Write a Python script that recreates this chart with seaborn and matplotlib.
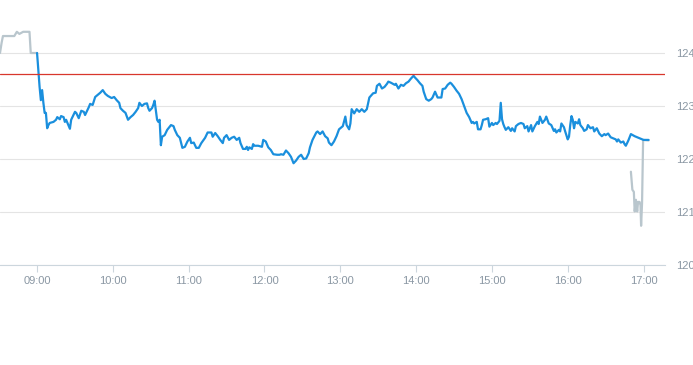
import pandas as pd
import matplotlib
matplotlib.use("Agg")
import matplotlib.pyplot as plt
import matplotlib.dates as mdates
import seaborn as sns

# ==========================
# Data
# ==========================

day = "2024-01-02"

pre_times = ["08:30:40", "08:32", "08:33", "08:42", "08:44", "08:46", "08:49", "08:54", "08:55", "09:00"]
pre_prices = [124.00, 124.20, 124.32, 124.32, 124.40, 124.36, 124.40, 124.40, 124.00, 124.00]

session_times = [
    "09:00", "09:02", "09:03", "09:04", "09:05", "09:06", "09:07", "09:08", "09:09", "09:10",
    "09:13", "09:15", "09:16", "09:18", "09:19", "09:21", "09:22", "09:23", "09:26", "09:27",
    "09:30", "09:31", "09:33", "09:35", "09:37", "09:38", "09:41", "09:42", "09:44", "09:46",
    "09:48", "09:50", "09:52", "09:54", "09:56", "09:59", "10:01", "10:03", "10:05", "10:06",
    "10:08", "10:10", "10:12", "10:14", "10:16", "10:18", "10:20", "10:21", "10:23", "10:25",
    "10:27", "10:28", "10:29", "10:31", "10:32", "10:33", "10:35", "10:36", "10:37", "10:38",
    "10:39", "10:41", "10:43", "10:44", "10:46", "10:48", "10:49", "10:51", "10:53", "10:55",
    "10:57", "10:59", "11:01", "11:02", "11:04", "11:06", "11:08", "11:10", "11:13", "11:15",
    "11:18", "11:19", "11:21", "11:23", "11:25", "11:27", "11:28", "11:30", "11:32", "11:34",
    "11:36", "11:38", "11:40", "11:41", "11:43", "11:45", "11:46", "11:47", "11:48", "11:50",
    "11:51", "11:52", "11:55", "11:58", "11:59", "12:01", "12:03", "12:05", "12:07", "12:10",
    "12:12", "12:13", "12:15", "12:17", "12:19", "12:21", "12:23", "12:25", "12:27", "12:29",
    "12:31", "12:33", "12:35", "12:36", "12:38", "12:41", "12:42", "12:44", "12:46", "12:48",
    "12:50", "12:51", "12:53", "12:55", "12:57", "12:59", "13:01", "13:02", "13:04", "13:05",
    "13:07", "13:08", "13:09", "13:11", "13:13", "13:15", "13:17", "13:19", "13:21", "13:22",
    "13:23", "13:26", "13:28", "13:29", "13:31", "13:33", "13:35", "13:37", "13:38", "13:40",
    "13:43", "13:44", "13:46", "13:48", "13:50", "13:52", "13:54", "13:56", "13:58", "13:59",
    "14:01", "14:03", "14:05", "14:06", "14:08", "14:10", "14:12", "14:13", "14:15", "14:17",
    "14:20", "14:21", "14:23", "14:25", "14:27", "14:28", "14:30", "14:32", "14:34", "14:36",
    "14:38", "14:40", "14:42", "14:44", "14:45", "14:46", "14:48", "14:49", "14:51", "14:52",
    "14:53", "14:55", "14:57", "14:58", "15:00", "15:01", "15:03", "15:04", "15:06", "15:07",
    "15:08", "15:09", "15:10", "15:11", "15:13", "15:15", "15:16", "15:18", "15:19", "15:21",
    "15:23", "15:25", "15:26", "15:28", "15:29", "15:31", "15:32", "15:34", "15:36", "15:37",
    "15:38", "15:40", "15:42", "15:43", "15:45", "15:47", "15:49", "15:50", "15:51", "15:53",
    "15:54", "15:55", "15:57", "15:58", "16:00", "16:01", "16:02", "16:03", "16:04", "16:05",
    "16:06", "16:08", "16:09", "16:10", "16:12", "16:13", "16:15", "16:16", "16:18", "16:20",
    "16:21", "16:23", "16:25", "16:27", "16:29", "16:30", "16:32", "16:34", "16:36", "16:38",
    "16:39", "16:40", "16:42", "16:44", "16:45", "16:46", "16:48", "16:50", "16:53", "16:57",
    "17:00", "17:04",
]
session_prices = [
    124.00, 123.36, 123.11, 123.30, 123.06, 122.87, 122.87, 122.58, 122.64, 122.68,
    122.70, 122.74, 122.79, 122.75, 122.81, 122.79, 122.70, 122.74, 122.57, 122.74,
    122.89, 122.87, 122.77, 122.91, 122.89, 122.83, 122.98, 123.04, 123.02, 123.17,
    123.21, 123.25, 123.30, 123.23, 123.19, 123.15, 123.17, 123.11, 123.06, 122.96,
    122.91, 122.87, 122.74, 122.79, 122.83, 122.89, 122.96, 123.06, 123.00, 123.04,
    123.05, 122.96, 122.91, 122.96, 123.02, 123.10, 122.74, 122.70, 122.74, 122.26,
    122.42, 122.45, 122.55, 122.58, 122.64, 122.62, 122.55, 122.45, 122.40, 122.21,
    122.23, 122.33, 122.40, 122.30, 122.31, 122.21, 122.21, 122.30, 122.40, 122.50,
    122.50, 122.42, 122.49, 122.43, 122.36, 122.30, 122.40, 122.45, 122.36, 122.40,
    122.42, 122.36, 122.40, 122.30, 122.19, 122.19, 122.23, 122.17, 122.22, 122.19,
    122.28, 122.25, 122.25, 122.23, 122.36, 122.33, 122.22, 122.17, 122.09, 122.08,
    122.08, 122.09, 122.08, 122.16, 122.11, 122.04, 121.92, 121.97, 122.04, 122.08,
    122.00, 122.01, 122.11, 122.22, 122.36, 122.50, 122.52, 122.47, 122.52, 122.43,
    122.39, 122.31, 122.26, 122.33, 122.43, 122.56, 122.60, 122.62, 122.80, 122.64,
    122.56, 122.67, 122.94, 122.86, 122.94, 122.89, 122.94, 122.89, 122.94, 123.05,
    123.16, 123.24, 123.25, 123.38, 123.42, 123.33, 123.36, 123.42, 123.46, 123.44,
    123.40, 123.42, 123.33, 123.40, 123.38, 123.43, 123.46, 123.52, 123.57, 123.54,
    123.49, 123.43, 123.38, 123.27, 123.13, 123.10, 123.13, 123.16, 123.27, 123.16,
    123.16, 123.32, 123.33, 123.40, 123.44, 123.42, 123.36, 123.29, 123.23, 123.13,
    123.00, 122.87, 122.79, 122.68, 122.70, 122.67, 122.70, 122.56, 122.56, 122.64,
    122.74, 122.75, 122.77, 122.61, 122.68, 122.64, 122.68, 122.66, 122.72, 123.06,
    122.75, 122.66, 122.60, 122.55, 122.60, 122.53, 122.58, 122.52, 122.62, 122.66,
    122.68, 122.66, 122.58, 122.62, 122.52, 122.64, 122.52, 122.62, 122.70, 122.66,
    122.80, 122.68, 122.74, 122.80, 122.67, 122.64, 122.53, 122.56, 122.50, 122.55,
    122.52, 122.67, 122.60, 122.52, 122.37, 122.42, 122.64, 122.81, 122.74, 122.58,
    122.70, 122.67, 122.75, 122.64, 122.58, 122.53, 122.56, 122.64, 122.58, 122.60,
    122.52, 122.58, 122.48, 122.43, 122.47, 122.45, 122.48, 122.41, 122.39, 122.37,
    122.33, 122.37, 122.31, 122.33, 122.28, 122.25, 122.35, 122.47, 122.43, 122.39,
    122.36, 122.36,
]

post_times = ["16:50", "16:51:10", "16:52:20", "16:53", "16:54", "16:55", "16:55:40",
              "16:56:50", "16:57:35", "16:58:05", "16:58:50", "16:59:40", "17:04"]
post_prices = [121.76, 121.42, 121.38, 121.01, 121.23, 121.01, 121.19,
               121.19, 121.13, 120.74, 121.17, 122.36, 122.35]

reference_price = 123.60

y_ticks = [120, 121, 122, 123, 124]
x_ticks = ["09:00", "10:00", "11:00", "12:00", "13:00", "14:00", "15:00", "16:00", "17:00"]


def to_ts(values):
    return [pd.Timestamp(f"{day} {t}") for t in values]


pre_df = pd.DataFrame({"time": to_ts(pre_times), "price": pre_prices})
session_df = pd.DataFrame({"time": to_ts(session_times), "price": session_prices})
post_df = pd.DataFrame({"time": to_ts(post_times), "price": post_prices})

# ==========================
# Plot
# ==========================

sns.set_theme(style="white")
plt.rcParams["font.family"] = ["Liberation Sans", "DejaVu Sans"]

fig = plt.figure(figsize=(6.93, 3.65), dpi=100)
ax = fig.add_axes([0.0, 0.274, 0.959, 0.726])

grey_line = "#b9c6cd"
blue_line = "#1a8fdd"

sns.lineplot(data=pre_df, x="time", y="price", ax=ax, color=grey_line,
             linewidth=1.6, estimator=None, sort=False)
sns.lineplot(data=session_df, x="time", y="price", ax=ax, color=blue_line,
             linewidth=1.6, estimator=None, sort=False, zorder=3)
sns.lineplot(data=post_df, x="time", y="price", ax=ax, color=grey_line,
             linewidth=1.6, estimator=None, sort=False, zorder=2)

ax.axhline(reference_price, color="#d8372c", linewidth=0.9, zorder=4)

ax.set_xlim(pd.Timestamp(f"{day} 08:30:40"), pd.Timestamp(f"{day} 17:16:40"))
ax.set_ylim(120, 125)

ax.set_yticks(y_ticks)
ax.set_yticklabels([str(v) for v in y_ticks])
ax.yaxis.tick_right()
ax.tick_params(axis="y", length=0, pad=8, labelsize=8, labelcolor="#8a97a3")

ax.set_xticks(to_ts(x_ticks))
ax.xaxis.set_major_formatter(mdates.DateFormatter("%H:%M"))
ax.tick_params(axis="x", length=5, width=0.8, color="#ccd6dd", pad=3,
               labelsize=8, labelcolor="#8a97a3", bottom=True)

ax.grid(axis="y", color="#e4e4e4", linewidth=0.8)
ax.grid(axis="x", visible=False)

for side in ["top", "left", "right"]:
    ax.spines[side].set_visible(False)
ax.spines["bottom"].set_color("#ccd6dd")
ax.spines["bottom"].set_linewidth(0.8)

ax.set_xlabel("")
ax.set_ylabel("")

fig.savefig("out.png", dpi=100)
plt.close(fig)
